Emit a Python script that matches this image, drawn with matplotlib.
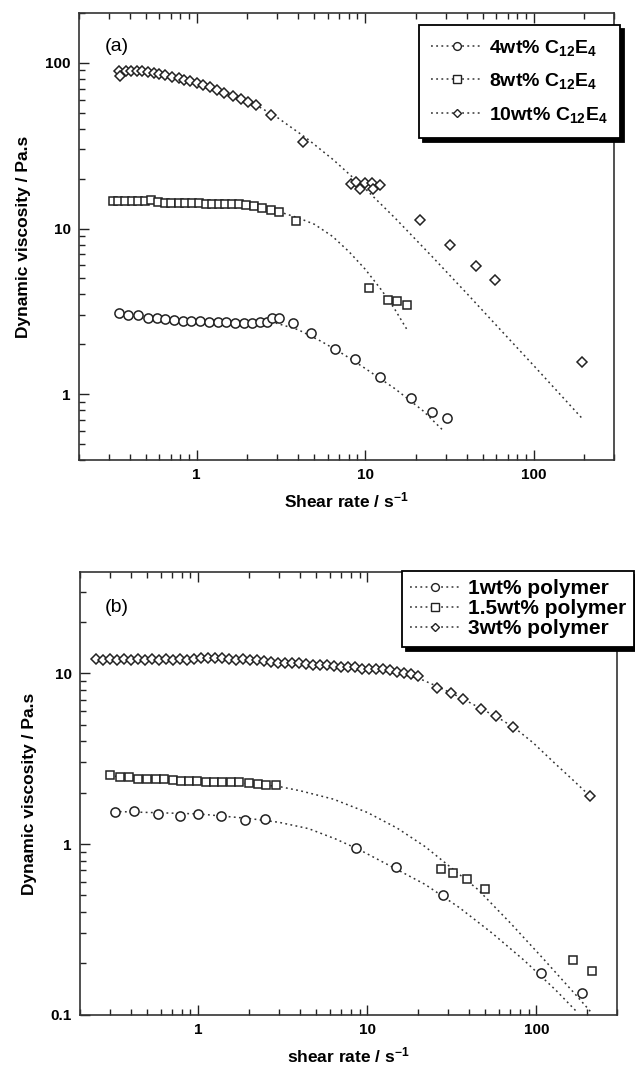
import matplotlib
matplotlib.use("Agg")
import matplotlib.pyplot as plt
from matplotlib import ticker
from matplotlib.lines import Line2D

# ---- panel (a): C12E4 solutions ----
c4_x = [0.346, 0.393, 0.447, 0.512, 0.577, 0.650, 0.732, 0.825, 0.929, 1.05, 1.18, 1.33, 1.50, 1.69,
        1.91, 2.14, 2.37, 2.61, 2.79, 3.09, 3.71, 4.77, 6.64, 8.65, 12.2, 18.6, 25.1, 30.5]
c4_y = [3.11, 3.01, 3.01, 2.88, 2.88, 2.84, 2.81, 2.78, 2.78, 2.77, 2.74, 2.71, 2.71, 2.68,
        2.68, 2.68, 2.71, 2.74, 2.88, 2.88, 2.68, 2.33, 1.87, 1.62, 1.27, 0.942, 0.775, 0.713]
c8_x = [0.317, 0.342, 0.375, 0.411, 0.450, 0.494, 0.537, 0.588, 0.644, 0.706, 0.781, 0.856, 0.937,
        1.03, 1.13, 1.23, 1.35, 1.48, 1.62, 1.78, 1.95, 2.19, 2.45, 2.75, 3.09, 3.88,
        10.5, 13.6, 15.4, 17.8]
c8_y = [14.6, 14.6, 14.6, 14.6, 14.6, 14.6, 14.8, 14.5, 14.3, 14.3, 14.3, 14.2, 14.2,
        14.2, 14.0, 14.0, 14.0, 14.0, 14.0, 14.0, 13.8, 13.6, 13.3, 12.9, 12.6, 11.1,
        4.37, 3.71, 3.63, 3.46]
c10_x = [0.347, 0.350, 0.382, 0.408, 0.444, 0.476, 0.517, 0.559, 0.601, 0.650, 0.709, 0.781, 0.845,
         0.917, 1.00, 1.09, 1.20, 1.32, 1.46, 1.64, 1.82, 2.02, 2.24, 2.75, 4.25,
         8.27, 8.86, 9.36, 9.93, 11.0, 11.2, 12.2, 21.1, 31.9, 45.5, 59.3, 195]
c10_y = [89.9, 83.8, 89.9, 89.0, 89.9, 89.9, 88.6, 86.9, 85.7, 84.5, 82.6, 80.6, 79.2,
         78.1, 75.6, 73.6, 71.2, 68.9, 65.8, 62.8, 60.5, 58.3, 55.6, 48.4, 33.3,
         18.5, 19.1, 17.4, 18.7, 18.7, 17.4, 18.2, 11.2, 8.0, 5.97, 4.86, 1.57]

# dotted model fits
fit4_x = [0.35, 1.0, 2.0, 2.9, 4.0, 5.5, 7.5, 10, 15, 22, 29.2]
fit4_y = [2.9, 2.8, 2.74, 2.7, 2.45, 2.08, 1.73, 1.43, 1.08, 0.795, 0.6]
fit8_x = [0.32, 1.0, 2.0, 3.1, 4.0, 5.0, 6.4, 8.0, 10, 12.5, 15, 17.6]
fit8_y = [14.6, 14.3, 13.7, 12.6, 11.6, 10.6, 8.96, 7.26, 5.68, 4.25, 3.25, 2.48]
fit10_x = [0.35, 0.5, 0.7, 1.0, 1.4, 2.0, 3.0, 4.5, 6.5, 10, 15, 25, 40, 63, 100, 195]
fit10_y = [89, 86, 82, 76, 68.5, 59.7, 46.9, 35.0, 25.9, 17.4, 11.6, 6.76, 4.07, 2.47, 1.49, 0.71]

# ---- panel (b): polymer solutions ----
p1_x = [0.322, 0.417, 0.579, 0.778, 1.0, 1.36, 1.90, 2.49, 8.63, 14.7, 27.9, 107, 187]
p1_y = [1.54, 1.55, 1.50, 1.46, 1.50, 1.46, 1.39, 1.40, 0.948, 0.734, 0.506, 0.175, 0.134]
p15_x = [0.30, 0.343, 0.389, 0.442, 0.500, 0.561, 0.629, 0.705, 0.789, 0.885, 0.99, 1.11, 1.24,
         1.39, 1.56, 1.75, 1.99, 2.25, 2.52, 2.87, 27.3, 32.1, 38.8, 49.4, 164, 212]
p15_y = [2.53, 2.48, 2.45, 2.40, 2.39, 2.39, 2.39, 2.37, 2.35, 2.35, 2.35, 2.32, 2.30,
         2.30, 2.30, 2.29, 2.27, 2.24, 2.21, 2.21, 0.718, 0.677, 0.625, 0.548, 0.21, 0.18]
p3_x = [0.247, 0.272, 0.299, 0.329, 0.362, 0.398, 0.438, 0.482, 0.530, 0.584, 0.642, 0.707,
        0.777, 0.855, 0.941, 1.035, 1.139, 1.253, 1.378, 1.516, 1.668, 1.835, 2.019, 2.221,
        2.443, 2.689, 2.958, 3.254, 3.580, 3.938, 4.333, 4.767, 5.245, 5.770, 6.348, 6.982,
        7.683, 8.453, 9.299, 10.23, 11.26, 12.38, 13.62, 14.99, 16.49, 18.14, 19.96,
        26.0, 31.2, 36.6, 47.0, 57.6, 72.3, 207]
p3_y = [12.1, 12.0, 12.1, 12.0, 12.1, 12.0, 12.1, 12.0, 12.1, 12.0, 12.1, 12.0,
        12.1, 12.0, 12.1, 12.2, 12.3, 12.3, 12.2, 12.1, 12.0, 12.1, 12.0, 11.9,
        11.8, 11.6, 11.4, 11.4, 11.4, 11.4, 11.3, 11.2, 11.1, 11.1, 11.0, 10.9,
        10.9, 10.9, 10.6, 10.6, 10.5, 10.5, 10.4, 10.2, 10.0, 9.9, 9.6,
        8.14, 7.6, 7.05, 6.16, 5.61, 4.86, 1.91]

fit1_x = [0.32, 1.0, 2.0, 3.0, 4.5, 6.5, 9.0, 14, 22, 35, 55, 85, 130, 174]
fit1_y = [1.55, 1.50, 1.41, 1.34, 1.23, 1.07, 0.925, 0.735, 0.58, 0.425, 0.30, 0.208, 0.14, 0.104]
fit15_x = [0.3, 1.0, 2.0, 3.0, 4.0, 6.3, 10, 15, 22, 30, 45, 70, 110, 170, 214]
fit15_y = [2.5, 2.35, 2.26, 2.17, 2.05, 1.83, 1.53, 1.24, 0.965, 0.753, 0.543, 0.346, 0.213, 0.132, 0.102]
fit3_x = [0.25, 1.0, 2.0, 4.0, 7.0, 10, 15, 20, 26, 35, 47, 60, 75, 96, 127, 166, 207]
fit3_y = [12.1, 12.1, 11.9, 11.4, 10.9, 10.5, 9.95, 9.35, 8.35, 7.25, 6.2, 5.45, 4.75, 3.9, 3.0, 2.35, 1.91]

labels_a = [r"4wt% C$_{12}$E$_4$", r"8wt% C$_{12}$E$_4$", r"10wt% C$_{12}$E$_4$"]
labels_b = ["1wt% polymer", "1.5wt% polymer", "3wt% polymer"]

plt.rcParams["font.family"] = ["Liberation Sans", "DejaVu Sans"]
plt.rcParams["font.weight"] = "bold"
plt.rcParams["axes.labelweight"] = "bold"
plt.rcParams["mathtext.fontset"] = "custom"
plt.rcParams["mathtext.rm"] = "Liberation Sans:bold"
plt.rcParams["mathtext.bf"] = "Liberation Sans:bold"
plt.rcParams["mathtext.default"] = "bf"

INK = "#222222"
FIT = dict(color="#333333", lw=1.1, ls=(0, (1.2, 2.2)), zorder=2)
MK = dict(ls="none", mfc="white", mec=INK, mew=1.1, zorder=3)
SHAPES = [("o", 6.6), ("s", 6.2), ("D", 4.8)]
SHADOW = {"ox": 3, "oy": -3, "facecolor": "black", "edgecolor": "black", "alpha": 1}


def style_axis(ax, xlim, ylim):
    ax.set_xscale("log")
    ax.set_yscale("log")
    ax.set_xlim(*xlim)
    ax.set_ylim(*ylim)
    fmt = ticker.FuncFormatter(lambda v, p: "{:g}".format(v))
    ax.xaxis.set_major_formatter(fmt)
    ax.yaxis.set_major_formatter(fmt)
    ax.xaxis.set_minor_formatter(ticker.NullFormatter())
    ax.yaxis.set_minor_formatter(ticker.NullFormatter())
    ax.tick_params(which="both", direction="in", top=True, right=False,
                   labelsize=11, width=1.0, color=INK, pad=6)
    ax.tick_params(which="major", length=7)
    ax.tick_params(which="minor", length=4)
    for s in ax.spines.values():
        s.set_linewidth(1.2)
        s.set_color("#333333")


def handles():
    line_kw = {k: v for k, v in FIT.items() if k != "zorder"}
    return [Line2D([], [], marker=m, ms=ms * 0.85, mfc="white", mec=INK, mew=1.0, **line_kw)
            for m, ms in SHAPES]


fig = plt.figure(figsize=(6.35, 10.84), dpi=100)
ax_a = fig.add_axes([0.1244, 0.5756, 0.8425, 0.4124])
ax_b = fig.add_axes([0.126, 0.0637, 0.8457, 0.4086])

# panel (a)
for (fx, fy) in [(fit4_x, fit4_y), (fit8_x, fit8_y), (fit10_x, fit10_y)]:
    ax_a.plot(fx, fy, **FIT)
for (dx, dy), (m, ms) in zip([(c4_x, c4_y), (c8_x, c8_y), (c10_x, c10_y)], SHAPES):
    ax_a.plot(dx, dy, marker=m, ms=ms, **MK)
style_axis(ax_a, (0.2, 300), (0.4, 200))
ax_a.set_xlabel(r"Shear rate / s$^{-1}$", fontsize=12.5, labelpad=6)
ax_a.set_ylabel("Dynamic viscosity / Pa.s", fontsize=12.5, labelpad=10)
ax_a.text(0.049, 0.926, "(a)", transform=ax_a.transAxes, fontsize=14,
          fontweight="normal", va="center", ha="left")
leg_a = ax_a.legend(handles(), labels_a, loc="upper right", borderaxespad=0,
                    bbox_to_anchor=(620 / 635, 1 - 25 / 1084), bbox_transform=fig.transFigure,
                    fontsize=14, fancybox=False, framealpha=1, edgecolor="black",
                    handlelength=2.6, handletextpad=0.35, labelspacing=0.7, borderpad=0.65,
                    shadow=SHADOW)
leg_a.get_frame().set_linewidth(1.3)

# panel (b)
for (fx, fy) in [(fit1_x, fit1_y), (fit15_x, fit15_y), (fit3_x, fit3_y)]:
    ax_b.plot(fx, fy, **FIT)
for (dx, dy), (m, ms) in zip([(p1_x, p1_y), (p15_x, p15_y), (p3_x, p3_y)], SHAPES):
    ax_b.plot(dx, dy, marker=m, ms=ms, **MK)
style_axis(ax_b, (0.2, 300), (0.1, 39))
ax_b.set_xlabel(r"shear rate / s$^{-1}$", fontsize=12.5, labelpad=6)
ax_b.set_ylabel("Dynamic viscosity / Pa.s", fontsize=12.5, labelpad=10)
ax_b.text(0.047, 0.921, "(b)", transform=ax_b.transAxes, fontsize=14,
          fontweight="normal", va="center", ha="left")
leg_b = ax_b.legend(handles(), labels_b, loc="upper left", borderaxespad=0,
                    bbox_to_anchor=(402 / 635, 1 - 571 / 1084), bbox_transform=fig.transFigure,
                    fontsize=15, fancybox=False, framealpha=1, edgecolor="black",
                    handlelength=2.4, handletextpad=0.35, labelspacing=0.05, borderpad=0.4,
                    shadow=SHADOW)
leg_b.get_frame().set_linewidth(1.3)

fig.savefig("out.png", dpi=100)
